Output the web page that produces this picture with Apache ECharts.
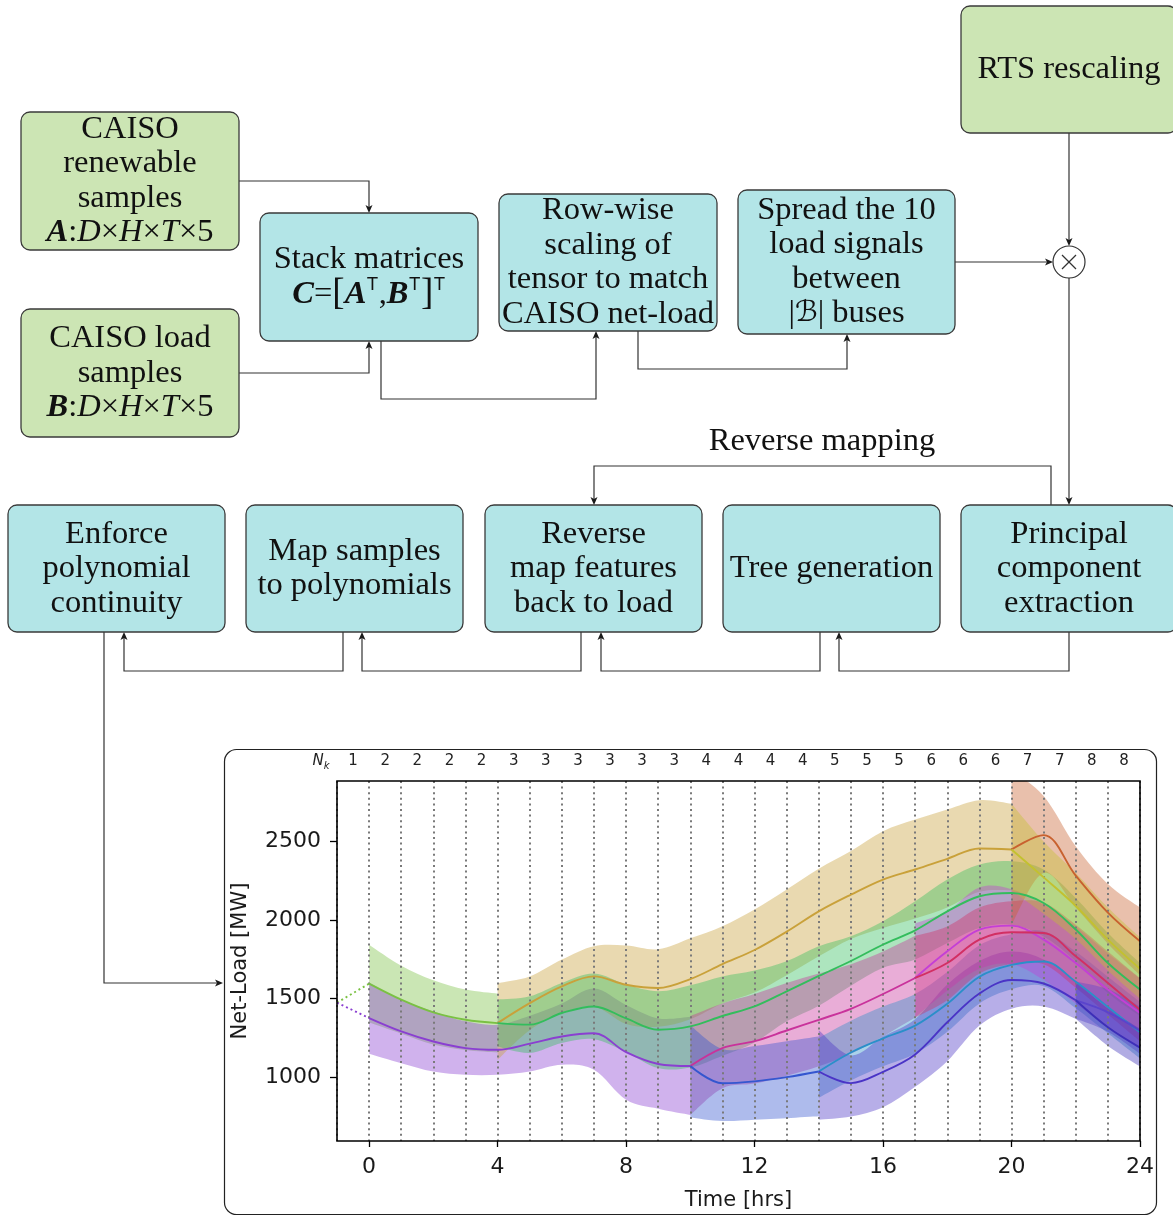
<!DOCTYPE html>
<html>
<head>
<meta charset="utf-8">
<script src="https://cdn.jsdelivr.net/npm/echarts@6/dist/echarts.min.js"></script>
<style>
html,body{margin:0;padding:0;background:#fff}
#fig{width:1173px;height:1216px}
</style>
</head>
<body>
<div id="fig"></div>
<script>
// ---------- Scenario-tree data: net-load (MW) per hour, mean and band edges ----------
const nkLabels = ['1','2','2','2','2','3','3','3','3','3','3','4','4','4','4','5','5','5','6','6','6','7','7','8','8'];
const xTickValues = [0, 4, 8, 12, 16, 20, 24];
const yTickValues = [1000, 1500, 2000, 2500];

const rootHour = -1;
const rootLoad = 1475;

// hours 0..4
const g0Mean  = [1596, 1494, 1413, 1366, 1345];
const g0Upper = [1844, 1710, 1617, 1558, 1532];
const g0Lower = [1348, 1278, 1209, 1174, 1158];
// hours 0..10
const p0Mean  = [1377, 1292, 1228, 1186, 1175, 1214, 1260, 1280, 1160, 1085, 1072];
const p0Upper = [1604, 1494, 1419, 1356, 1334, 1391, 1470, 1565, 1460, 1375, 1385];
const p0Lower = [1150, 1090, 1037, 1016, 1016, 1037, 1080, 1048, 857, 800, 761];
// hours 4..20
const tanMean  = [1345, 1472, 1579, 1642, 1589, 1568, 1625, 1720, 1810, 1927, 2056, 2162, 2258, 2322, 2390, 2456, 2449];
const tanUpper = [1600, 1642, 1749, 1834, 1838, 1814, 1884, 1961, 2067, 2195, 2327, 2440, 2566, 2640, 2704, 2763, 2740];
const tanLower = [1112, 1300, 1409, 1450, 1340, 1322, 1370, 1470, 1540, 1650, 1770, 1880, 1950, 2010, 2080, 2180, 2190];
// hours 4..24
const greenMean  = [1345, 1335, 1409, 1451, 1375, 1303, 1324, 1390, 1451, 1547, 1645, 1740, 1845, 1935, 2056, 2152, 2173, 2109, 1940, 1727, 1558];
const greenUpper = [1494, 1515, 1600, 1660, 1590, 1547, 1585, 1642, 1680, 1738, 1834, 1897, 1993, 2120, 2258, 2354, 2375, 2322, 2141, 1918, 1727];
const greenLower = [1196, 1155, 1218, 1242, 1160, 1059, 1063, 1138, 1222, 1356, 1456, 1583, 1697, 1750, 1854, 1950, 1971, 1896, 1739, 1536, 1389];
// hours 10..17
const magentaMean  = [1072, 1186, 1230, 1298, 1366, 1436, 1530, 1632];
const magentaUpper = [1390, 1470, 1530, 1600, 1660, 1720, 1800, 1900];
const magentaLower = [760, 930, 960, 1010, 1070, 1150, 1260, 1380];
// hours 10..14
const blueMean  = [1072, 962, 974, 1001, 1037];
const blueUpper = [1330, 1180, 1200, 1230, 1260];
const blueLower = [745, 722, 730, 740, 752];
// hours 14..24
const tealMean  = [1037, 1158, 1248, 1329, 1468, 1640, 1715, 1737, 1608, 1447, 1286];
const tealUpper = [1250, 1360, 1450, 1530, 1670, 1840, 1910, 1930, 1800, 1640, 1480];
const tealLower = [870, 980, 1070, 1150, 1290, 1470, 1560, 1580, 1440, 1280, 1120];
// hours 14..22
const indigoMean  = [1037, 963, 1035, 1146, 1350, 1533, 1619, 1597, 1490];
const indigoUpper = [1300, 1140, 1260, 1370, 1590, 1740, 1800, 1750, 1610];
const indigoLower = [730, 751, 810, 940, 1103, 1329, 1436, 1451, 1372];
// hours 17..24
const violetMean  = [1632, 1802, 1940, 1965, 1876, 1727, 1558, 1409];
const violetUpper = [1980, 2057, 2208, 2197, 2100, 1960, 1790, 1630];
const violetLower = [1380, 1550, 1690, 1720, 1620, 1470, 1320, 1180];
const crimsonMean  = [1632, 1727, 1876, 1923, 1918, 1770, 1600, 1430];
const crimsonUpper = [1900, 1960, 2080, 2120, 2110, 1970, 1800, 1630];
const crimsonLower = [1380, 1490, 1660, 1720, 1720, 1570, 1400, 1230];
// hours 20..24
const brownMean  = [2449, 2541, 2283, 2048, 1866];
const brownUpper = [2950, 2790, 2470, 2230, 2080];
const brownLower = [1970, 2300, 2080, 1850, 1650];
const oliveMean  = [2449, 2272, 2090, 1876, 1690];
const oliveUpper = [2740, 2500, 2300, 2080, 1890];
const oliveLower = [2190, 2040, 1880, 1680, 1500];
// hours 22..24
const indigoAMean  = [1490, 1415, 1296];
const indigoAUpper = [1610, 1560, 1450];
const indigoALower = [1372, 1290, 1150];
const indigoBMean  = [1490, 1318, 1189];
const indigoBUpper = [1610, 1440, 1310];
const indigoBLower = [1372, 1200, 1070];

// ---------- branch table (start hour + colour) ----------
const branches = [
  { start: 0,  mean: g0Mean,      upper: g0Upper,      lower: g0Lower,      color: '#7ac143' },
  { start: 0,  mean: p0Mean,      upper: p0Upper,      lower: p0Lower,      color: '#8a3fd1' },
  { start: 4,  mean: tanMean,     upper: tanUpper,     lower: tanLower,     color: '#c9a13a' },
  { start: 4,  mean: greenMean,   upper: greenUpper,   lower: greenLower,   color: '#33bd5c' },
  { start: 10, mean: magentaMean, upper: magentaUpper, lower: magentaLower, color: '#c9329b' },
  { start: 10, mean: blueMean,    upper: blueUpper,    lower: blueLower,    color: '#3456cf' },
  { start: 14, mean: tealMean,    upper: tealUpper,    lower: tealLower,    color: '#2a8fc9' },
  { start: 14, mean: indigoMean,  upper: indigoUpper,  lower: indigoLower,  color: '#4a34c6' },
  { start: 17, mean: violetMean,  upper: violetUpper,  lower: violetLower,  color: '#c43fd6' },
  { start: 17, mean: crimsonMean, upper: crimsonUpper, lower: crimsonLower, color: '#d22f63' },
  { start: 20, mean: brownMean,   upper: brownUpper,   lower: brownLower,   color: '#c8612f' },
  { start: 20, mean: oliveMean,   upper: oliveUpper,   lower: oliveLower,   color: '#c3c12f' },
  { start: 22, mean: indigoAMean, upper: indigoAUpper, lower: indigoALower, color: '#5a44cc' },
  { start: 22, mean: indigoBMean, upper: indigoBUpper, lower: indigoBLower, color: '#3d2fb8' }
];

const SMOOTH = 0.35;
const series = [];

// Catmull-Rom spline through pixel points, as SVG cubic segments (no leading M)
function splineSegments(pts) {
  let d = '';
  for (let i = 0; i < pts.length - 1; i++) {
    const p0 = pts[Math.max(i - 1, 0)], p1 = pts[i], p2 = pts[i + 1], p3 = pts[Math.min(i + 2, pts.length - 1)];
    const k = 0.17;
    const c1 = [p1[0] + (p2[0] - p0[0]) * k, p1[1] + (p2[1] - p0[1]) * k];
    const c2 = [p2[0] - (p3[0] - p1[0]) * k, p2[1] - (p3[1] - p1[1]) * k];
    d += ' C' + c1[0].toFixed(2) + ' ' + c1[1].toFixed(2) + ' ' + c2[0].toFixed(2) + ' ' + c2[1].toFixed(2) +
         ' ' + p2[0].toFixed(2) + ' ' + p2[1].toFixed(2);
  }
  return d;
}

// bands: one closed smooth shape per branch, placed through the grid's own scales
branches.forEach(b => {
  const hrs = b.mean.map((_, k) => b.start + k);
  series.push({
    type: 'custom', xAxisIndex: 0, yAxisIndex: 0, silent: true, z: 2,
    data: hrs.map((h, k) => [h, b.lower[k], b.upper[k]]),
    encode: { x: 0, y: [1, 2] },
    renderItem: function (params, api) {
      if (params.dataIndex !== 0) return null;
      const top = hrs.map((h, k) => api.coord([h, b.upper[k]]));
      const bot = hrs.map((h, k) => api.coord([h, b.lower[k]])).reverse();
      const d = 'M' + top[0][0] + ' ' + top[0][1] + splineSegments(top) +
                ' L' + bot[0][0] + ' ' + bot[0][1] + splineSegments(bot) + ' Z';
      const cs = params.coordSys;
      return {
        type: 'path',
        shape: { pathData: d },
        style: { fill: b.color, opacity: 0.4, stroke: null },
        clipPath: { type: 'rect', shape: { x: cs.x, y: cs.y, width: cs.width, height: cs.height } }
      };
    }
  });
});

// root links before hour 0
[branches[0], branches[1]].forEach(b => {
  series.push({
    type: 'line', xAxisIndex: 0, yAxisIndex: 0, silent: true,
    data: [[rootHour, rootLoad], [b.start, b.mean[0]]],
    symbol: 'none', lineStyle: { color: b.color, width: 1.9, type: [2, 3] }, z: 4
  });
});

// mean curves
branches.forEach(b => {
  series.push({
    type: 'line', xAxisIndex: 0, yAxisIndex: 0, silent: true,
    data: b.mean.map((v, k) => [b.start + k, v]),
    smooth: SMOOTH, symbol: 'none', lineStyle: { color: b.color, width: 1.9 }, z: 4
  });
});

// ---------- flow-chart drawing helpers ----------
const CYAN = '#b3e5e7', LIME = '#cce5b4', EDGE = '#3a3a3a', INK = '#111', WIRE = '#333';
const SERIF = 'Liberation Serif';
const FS = 32.5, LH = 34.5;
const RICH = {
  bi:  { fontFamily: SERIF, fontSize: FS, fontStyle: 'italic', fontWeight: 'bold', lineHeight: LH, fill: INK },
  i:   { fontFamily: SERIF, fontSize: FS, fontStyle: 'italic', lineHeight: LH, fill: INK },
  br:  { fontFamily: SERIF, fontSize: 37, lineHeight: LH, fill: INK },
  sup: { fontFamily: 'DejaVu Sans', fontSize: 17, lineHeight: 22, verticalAlign: 'top', fill: INK, padding: [0, 1, 0, 1] },
  cal: { fontFamily: 'DejaVu Sans', fontSize: 29, lineHeight: LH, fill: INK }
};

function textEl(cx, cy, text, extra) {
  return Object.assign({
    type: 'text', z: 20,
    style: {
      text: text, x: cx, y: cy, fill: INK, fontFamily: SERIF, fontSize: FS, lineHeight: LH,
      align: 'center', verticalAlign: 'middle', textAlign: 'center', textVerticalAlign: 'middle',
      rich: RICH
    }
  }, extra || {});
}
function box(x, y, w, h, fill, text) {
  return [
    { type: 'rect', z: 10, shape: { x: x, y: y, width: w, height: h, r: 9 },
      style: { fill: fill, stroke: EDGE, lineWidth: 1.3 } },
    textEl(x + w / 2, y + h / 2, text)
  ];
}
function arrow(pts) {
  const n = pts.length;
  const [x1, y1] = pts[n - 2], [x2, y2] = pts[n - 1];
  const len = Math.hypot(x2 - x1, y2 - y1);
  const ux = (x2 - x1) / len, uy = (y2 - y1) / len;
  const L = 8, W = 3.5, N = 2;
  const bx = x2 - ux * L, by = y2 - uy * L;
  const head = [
    [x2, y2],
    [bx - uy * W, by + ux * W],
    [x2 - ux * (L - N), y2 - uy * (L - N)],
    [bx + uy * W, by - ux * W]
  ];
  const line = pts.slice(0, n - 1).concat([[x2 - ux * (L - N), y2 - uy * (L - N)]]);
  return [
    { type: 'polyline', z: 8, shape: { points: line }, style: { stroke: WIRE, lineWidth: 1.2, fill: null } },
    { type: 'polygon', z: 9, shape: { points: head }, style: { fill: '#1a1a1a', stroke: null } }
  ];
}

const graphics = [].concat(
  // input boxes
  box(21, 112, 218, 138, LIME, 'CAISO\nrenewable\nsamples\n{bi|A}:{i|D}×{i|H}×{i|T}×5'),
  box(21, 309, 218, 128, LIME, 'CAISO load\nsamples\n{bi|B}:{i|D}×{i|H}×{i|T}×5'),
  box(260, 213, 218, 128, CYAN, 'Stack matrices\n{bi|C}={br|[}{bi|A}{sup|T},{bi|B}{sup|T}{br|]}{sup|T}'),
  box(499, 194, 218, 137, CYAN, 'Row-wise\nscaling of\ntensor to match\nCAISO net-load'),
  box(738, 190, 217, 144, CYAN, 'Spread the 10\nload signals\nbetween\n|{cal|ℬ}| buses'),
  box(961, 6, 216, 127, LIME, 'RTS rescaling'),
  // processing row
  box(8, 505, 217, 127, CYAN, 'Enforce\npolynomial\ncontinuity'),
  box(246, 505, 217, 127, CYAN, 'Map samples\nto polynomials'),
  box(485, 505, 217, 127, CYAN, 'Reverse\nmap features\nback to load'),
  box(723, 505, 217, 127, CYAN, 'Tree generation'),
  box(961, 505, 216, 127, CYAN, 'Principal\ncomponent\nextraction'),
  [textEl(822, 441, 'Reverse mapping')],
  // connectors
  arrow([[239, 181], [369, 181], [369, 213]]),
  arrow([[239, 373], [369, 373], [369, 341]]),
  arrow([[381, 341], [381, 399], [596, 399], [596, 331]]),
  arrow([[638, 331], [638, 369], [847, 369], [847, 334]]),
  arrow([[955, 262], [1053, 262]]),
  arrow([[1069, 133], [1069, 246]]),
  arrow([[1069, 278], [1069, 505]]),
  arrow([[1051, 505], [1051, 466], [594, 466], [594, 505]]),
  arrow([[1069, 632], [1069, 671], [839, 671], [839, 632]]),
  arrow([[820, 632], [820, 671], [601, 671], [601, 632]]),
  arrow([[581, 632], [581, 671], [362, 671], [362, 632]]),
  arrow([[343, 632], [343, 671], [124, 671], [124, 632]]),
  arrow([[104, 632], [104, 983], [223, 983]]),
  // multiplier node
  [
    { type: 'circle', z: 10, shape: { cx: 1069, cy: 262, r: 16 }, style: { fill: '#fff', stroke: WIRE, lineWidth: 1.2 } },
    { type: 'line', z: 11, shape: { x1: 1062, y1: 255, x2: 1076, y2: 269 }, style: { stroke: WIRE, lineWidth: 1.2 } },
    { type: 'line', z: 11, shape: { x1: 1076, y1: 255, x2: 1062, y2: 269 }, style: { stroke: WIRE, lineWidth: 1.2 } }
  ],
  // frame around the plot panel
  [
    { type: 'rect', z: 1, shape: { x: 224.5, y: 749.5, width: 932, height: 465, r: 12 },
      style: { fill: null, stroke: '#222', lineWidth: 1.2 } },
    { type: 'rect', z: 100, shape: { x: 337, y: 781, width: 803, height: 360 },
      style: { fill: null, stroke: '#000', lineWidth: 1.6 } },
    { type: 'text', z: 100,
      style: { text: '{n|N}{k|k}', x: 321, y: 761, align: 'center', verticalAlign: 'middle',
        textAlign: 'center', textVerticalAlign: 'middle',
        rich: {
          n: { fontFamily: 'DejaVu Sans', fontStyle: 'italic', fontSize: 15, lineHeight: 20, fill: '#222' },
          k: { fontFamily: 'DejaVu Sans', fontStyle: 'italic', fontSize: 10, lineHeight: 12, verticalAlign: 'bottom', fill: '#222' }
        } } }
  ]
);

const AXFONT = 'DejaVu Sans';
const plain = v => String(v);
const option = {
  animation: false,
  backgroundColor: '#fff',
  grid: { left: 337, top: 781, width: 803, height: 360, show: false },
  xAxis: [
    {
      type: 'value', position: 'bottom', min: -1, max: 24,
      axisLine: { show: false, onZero: false },
      axisTick: { show: true, length: 6, customValues: xTickValues, lineStyle: { color: '#000', width: 1.3 } },
      axisLabel: { customValues: xTickValues, formatter: plain, fontFamily: AXFONT, fontSize: 22, color: '#1a1a1a', margin: 15 },
      splitLine: { show: false },
      name: 'Time [hrs]', nameLocation: 'middle', nameGap: 49,
      nameTextStyle: { fontFamily: AXFONT, fontSize: 21, color: '#1a1a1a' }
    },
    {
      type: 'value', position: 'bottom', min: -1, max: 24, interval: 1, z: 3,
      axisLine: { show: false, onZero: false }, axisTick: { show: false }, axisLabel: { show: false },
      splitLine: { show: true, lineStyle: { color: '#7a7a7a', width: 2, type: [2, 3.6] } }
    },
    {
      type: 'category', position: 'top', data: nkLabels, boundaryGap: true,
      axisLine: { show: false, onZero: false }, axisTick: { show: false },
      axisLabel: { interval: 0, fontFamily: AXFONT, fontSize: 15, color: '#222', margin: 12 },
      splitLine: { show: false }
    }
  ],
  yAxis: {
    type: 'value', min: 595, max: 2885,
    axisLine: { show: false, onZero: false },
    axisTick: { show: true, length: 7, customValues: yTickValues, lineStyle: { color: '#000', width: 1.3 } },
    axisLabel: { customValues: yTickValues, formatter: plain, fontFamily: AXFONT, fontSize: 22, color: '#1a1a1a', margin: 16 },
    splitLine: { show: false },
    name: 'Net-Load [MW]', nameLocation: 'middle', nameGap: 86, nameRotate: 90,
    nameTextStyle: { fontFamily: AXFONT, fontSize: 21, color: '#1a1a1a' }
  },
  graphic: { elements: graphics },
  series: series
};

const chart = echarts.init(document.getElementById('fig'));
chart.setOption(option);
</script>
</body>
</html>
